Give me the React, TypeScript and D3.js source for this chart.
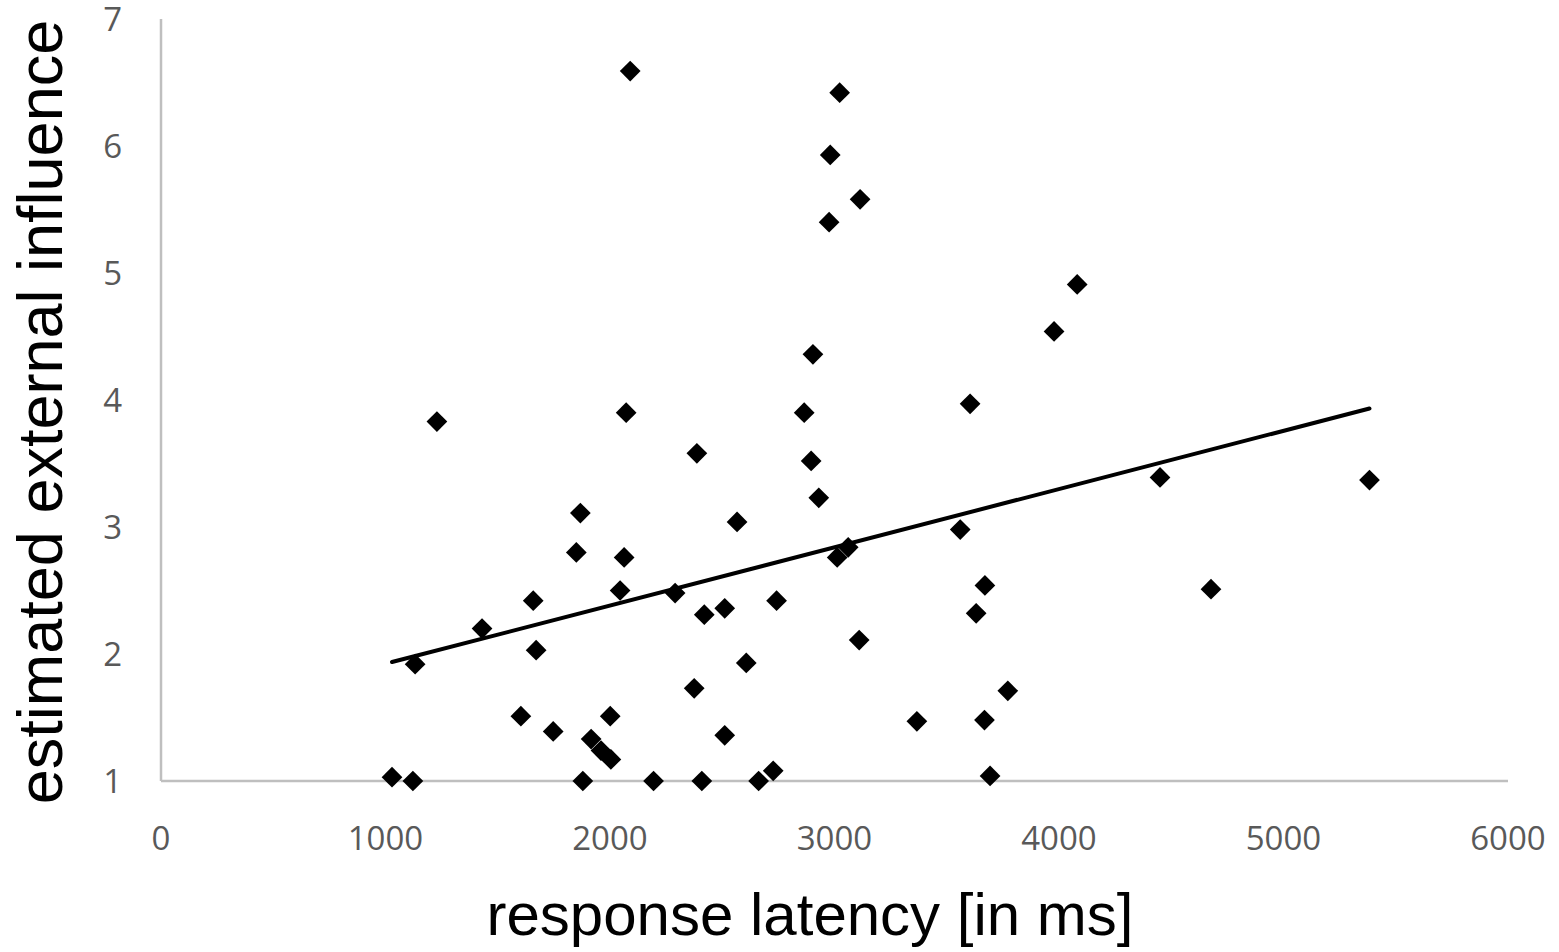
import { useMemo } from "react";
import * as d3 from "d3";

// response latency in ms
const latency = [
  1029, 1122, 1132, 1229, 1430, 1603, 1658, 1671, 1747, 1850, 1868, 1879, 1916, 1960, 2004,
  2001, 2045, 2063, 2072, 2090, 2194, 2290, 2375, 2387, 2409, 2420, 2511, 2511, 2566, 2607,
  2662, 2727, 2742, 2865, 2896, 2904, 2930, 2976, 2981, 3012, 3023, 3061, 3110, 3114, 3367,
  3560, 3604, 3631, 3670, 3668, 3693, 3772, 3978, 4081, 4450, 4677, 5383,
];

// estimated external influence, same order as latency
const influence = [
  1.03, 1.0, 1.92, 3.83, 2.2, 1.51, 2.42, 2.03, 1.39, 2.8, 3.11, 1.0, 1.33, 1.24, 1.17,
  1.51, 2.5, 2.76, 3.9, 6.59, 1.0, 2.48, 1.73, 3.58, 1.0, 2.31, 2.36, 1.36, 3.04, 1.93,
  1.0, 1.08, 2.42, 3.9, 3.52, 4.36, 3.23, 5.4, 5.93, 2.76, 6.42, 2.84, 2.11, 5.58, 1.47,
  2.98, 3.97, 2.32, 2.54, 1.48, 1.04, 1.71, 4.54, 4.91, 3.39, 2.51, 3.37,
];

const xTicks = [0, 1000, 2000, 3000, 4000, 5000, 6000];
const yTicks = [1, 2, 3, 4, 5, 6, 7];

const W = 1559;
const H = 952;
const margin = { top: 19, right: 51, bottom: 171, left: 161 };

export default function App() {
  const x = d3.scaleLinear().domain([0, 6000]).range([margin.left, W - margin.right]);
  const y = d3.scaleLinear().domain([1, 7]).range([H - margin.bottom, margin.top]);

  const points = latency.map((lx, i) => ({ lx, v: influence[i] }));

  // linear trend (least squares), drawn over the range of the data like Excel does
  const trend = useMemo(() => {
    const mx = d3.mean(latency)!;
    const my = d3.mean(influence)!;
    let sxy = 0;
    let sxx = 0;
    latency.forEach((lx, i) => {
      sxy += (lx - mx) * (influence[i] - my);
      sxx += (lx - mx) * (lx - mx);
    });
    const b = sxy / sxx;
    const a = my - b * mx;
    const [x0, x1] = d3.extent(latency) as [number, number];
    return [
      [x0, a + b * x0],
      [x1, a + b * x1],
    ];
  }, []);

  const line = d3
    .line<number[]>()
    .x((d) => x(d[0]))
    .y((d) => y(d[1]));

  const diamond = d3.symbol(d3.symbolSquare, 215)();

  return (
    <>
      <style>{`body{margin:0}`}</style>
      <svg width={W} height={H} style={{ display: "block", background: "#fff" }}>
        {/* axes */}
        <line x1={x(0)} x2={x(6000)} y1={y(1)} y2={y(1)} stroke="#bfbfbf" strokeWidth={2.5} />
        <line x1={x(0)} x2={x(0)} y1={y(1)} y2={y(7)} stroke="#bfbfbf" strokeWidth={2.5} />

        {xTicks.map((t) => (
          <text
            key={t}
            x={x(t)}
            y={850}
            textAnchor="middle"
            fill="#595959"
            fontSize={33}
            fontFamily="'Open Sans', sans-serif"
          >
            {t}
          </text>
        ))}
        {yTicks.map((t) => (
          <text
            key={t}
            x={122}
            y={y(t)}
            dy="0.35em"
            textAnchor="end"
            fill="#595959"
            fontSize={33}
            fontFamily="'Open Sans', sans-serif"
          >
            {t}
          </text>
        ))}

        {/* points */}
        {points.map((p, i) => (
          <path
            key={i}
            d={diamond!}
            transform={`translate(${x(p.lx)},${y(p.v)}) rotate(45)`}
            fill="#000"
          />
        ))}

        {/* trend line */}
        <path d={line(trend)!} fill="none" stroke="#000" strokeWidth={4} strokeLinecap="round" />

        {/* axis titles */}
        <text
          x={810}
          y={935}
          textAnchor="middle"
          fontSize={60}
          fontFamily="'Liberation Sans', Arial, sans-serif"
          fill="#000"
        >
          response latency [in ms]
        </text>
        <text
          transform={`translate(62,${412}) rotate(-90)`}
          textAnchor="middle"
          fontSize={63}
          fontFamily="'Liberation Sans', Arial, sans-serif"
          fill="#000"
        >
          estimated external influence
        </text>
      </svg>
    </>
  );
}
